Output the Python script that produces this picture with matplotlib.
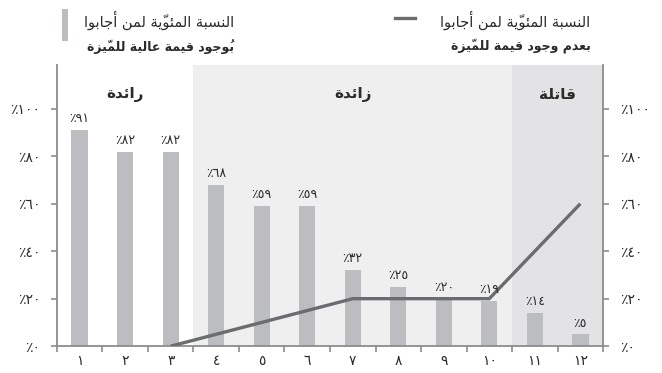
import numpy as np
import matplotlib
matplotlib.use("Agg")
import matplotlib.pyplot as plt
from matplotlib.patches import Rectangle
from matplotlib.lines import Line2D

# percentages per question
questions = list(range(1, 13))
high_value = [91, 82, 82, 68, 59, 59, 32, 25, 20, 19, 14, 5]
line_questions = [3, 4, 5, 6, 7, 8, 9, 10, 11, 12]
no_value = [0, 5, 10, 15, 20, 20, 20, 20, 40, 60]
y_ticks = [0, 20, 40, 60, 80, 100]

# question groups (first, last)
zone_names = ["رائدة", "زائدة", "قاتلة"]
zone_ranges = [(1, 3), (4, 10), (11, 12)]

legend_title = "النسبة المئويّة لمن أجابوا"
legend_bars = "بوُجود قيمة عالية للميّزة"
legend_line = "بعدم وجود قيمة للميّزة"

# --- minimal arabic shaping (matplotlib has no bidi / joining) ---
forms = {
    'آ': 0xFE81, 'أ': 0xFE83, 'ؤ': 0xFE85, 'إ': 0xFE87, 'ئ': 0xFE89, 'ا': 0xFE8D,
    'ب': 0xFE8F, 'ة': 0xFE93, 'ت': 0xFE95, 'ث': 0xFE99, 'ج': 0xFE9D, 'ح': 0xFEA1,
    'خ': 0xFEA5, 'د': 0xFEA9, 'ذ': 0xFEAB, 'ر': 0xFEAD, 'ز': 0xFEAF, 'س': 0xFEB1,
    'ش': 0xFEB5, 'ص': 0xFEB9, 'ض': 0xFEBD, 'ط': 0xFEC1, 'ظ': 0xFEC5, 'ع': 0xFEC9,
    'غ': 0xFECD, 'ف': 0xFED1, 'ق': 0xFED5, 'ك': 0xFED9, 'ل': 0xFEDD, 'م': 0xFEE1,
    'ن': 0xFEE5, 'ه': 0xFEE9, 'و': 0xFEED, 'ى': 0xFEEF, 'ي': 0xFEF1,
}
right_only = set('آأؤإادذرزوة')
marks = set('\u064b\u064c\u064d\u064e\u064f\u0650\u0651\u0652')


def shape(text):
    chars = list(text)
    letters = [i for i, c in enumerate(chars) if c not in marks]
    out = list(chars)
    for k, i in enumerate(letters):
        c = chars[i]
        if c not in forms:
            continue
        prev = chars[letters[k - 1]] if k > 0 else None
        nxt = chars[letters[k + 1]] if k + 1 < len(letters) else None
        join_prev = prev in forms and prev not in right_only
        join_next = c not in right_only and nxt in forms
        base = forms[c]
        if join_prev and join_next:
            out[i] = chr(base + 3)
        elif join_prev:
            out[i] = chr(base + 1)
        elif join_next:
            out[i] = chr(base + 2)
        else:
            out[i] = chr(base)
    # clusters = base + its marks, then reverse for visual order
    clusters = []
    for c in out:
        if c in marks and clusters:
            clusters[-1] += c
        else:
            clusters.append(c)
    return "".join(clusters[::-1])


def ar_num(n):
    return str(n).translate(str.maketrans("0123456789", "٠١٢٣٤٥٦٧٨٩"))


def pct(n):
    return "٪" + ar_num(n)


bar_color = "#bcbdc0"
line_color = "#6b6c6e"
zone_colors = ["white", "#efeff0", "#e3e3e5"]
axis_color = "#8c8c8c"
text_color = "#2b2b2b"

fig = plt.figure(figsize=(6.62, 3.73), dpi=100)
ax = fig.add_axes([0.086, 0.072, 0.825, 0.754])

for name, (a, b), col in zip(zone_names, zone_ranges, zone_colors):
    ax.axvspan(a - 0.5, b + 0.5, color=col, lw=0, zorder=0)
    ax.text((a + b) / 2, 106, shape(name), ha="center", va="center",
            fontsize=11, fontweight="bold", color=text_color)

ax.bar(questions, high_value, width=0.36, color=bar_color, zorder=2)
for q, v in zip(questions, high_value):
    ax.text(q, v + 2, pct(v), ha="center", va="bottom", fontsize=9, color=text_color, zorder=4)

ax.plot(line_questions, no_value, color=line_color, lw=2.4, zorder=3, solid_capstyle="butt")

ax.set_xlim(0.5, 12.5)
ax.set_ylim(0, 118.5)
ax.set_xticks(np.arange(0.5, 13, 1))
ax.set_xticklabels([])
ax.set_xticks(questions, minor=True)
ax.set_xticklabels([ar_num(q) for q in questions], minor=True)
ax.tick_params(axis="x", which="major", length=4, width=1.2, color=axis_color, direction="out")
ax.tick_params(axis="x", which="minor", length=0, pad=6, labelsize=10, labelcolor=text_color)
ax.set_yticks(y_ticks)
ax.set_yticklabels([pct(t) for t in y_ticks])
ax.tick_params(axis="y", length=4, width=1.2, color=axis_color, direction="out",
               left=True, right=True, labelleft=True, labelright=True,
               labelsize=10, labelcolor=text_color, pad=8)
ax.spines["top"].set_visible(False)
for s in ["left", "right", "bottom"]:
    ax.spines[s].set_color(axis_color)
    ax.spines[s].set_linewidth(1.3)

# legend above the plot
fig.patches.append(Rectangle((0.093, 0.89), 0.009, 0.085, transform=fig.transFigure,
                             color=bar_color, lw=0))
fig.text(0.353, 0.945, shape(legend_title), ha="right", va="center", fontsize=10.5, color=text_color)
fig.text(0.353, 0.875, shape(legend_bars), ha="right", va="center", fontsize=9,
         fontweight="bold", color=text_color)
fig.lines.append(Line2D([0.597, 0.627], [0.952, 0.952], transform=fig.transFigure,
                        color=line_color, lw=2.4))
fig.text(0.892, 0.945, shape(legend_title), ha="right", va="center", fontsize=10.5, color=text_color)
fig.text(0.892, 0.875, shape(legend_line), ha="right", va="center", fontsize=9,
         fontweight="bold", color=text_color)

fig.savefig("out.png", dpi=100)
